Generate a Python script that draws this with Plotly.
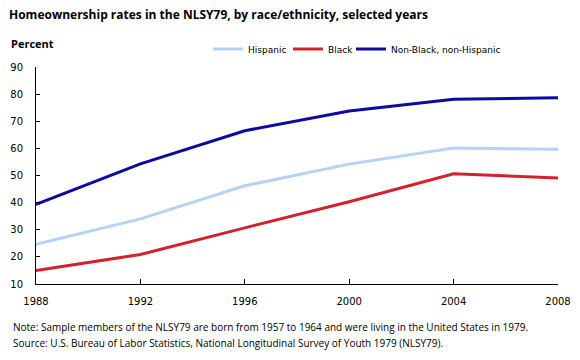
import plotly.graph_objects as go

years = [1988, 1992, 1996, 2000, 2004, 2008]
hispanic = [24.6, 34.0, 46.2, 54.2, 60.1, 59.7]
black = [15.0, 20.9, 30.7, 40.3, 50.6, 49.1]
non_black_non_hispanic = [39.4, 54.3, 66.5, 73.8, 78.1, 78.7]

series = [
    ("Hispanic", hispanic, "#B3D3F9", "legend"),
    ("Black", black, "#D2222D", "legend2"),
    ("Non-Black, non-Hispanic", non_black_non_hispanic, "#0F0A9E", "legend3"),
]

fig = go.Figure()
for name, vals, col, lg in series:
    fig.add_trace(go.Scatter(x=years, y=vals, name=name, mode="lines",
                             line=dict(color=col, width=3), legend=lg))

L, R, T, B = 36, 22, 67, 76
W, H = 580, 360
pw, ph = W - L - R, H - T - B


def px(x):
    return (x - L) / pw


def py(y):
    return (H - B - y) / ph


def leg(xpix):
    return dict(orientation="h", x=px(xpix), xanchor="left", y=py(49), yanchor="middle",
                font=dict(family="DejaVu Sans", size=9, color="#000"),
                bgcolor="rgba(0,0,0,0)", itemwidth=30)


tick_font = dict(family="DejaVu Sans", size=10, color="#000")
fig.update_layout(
    width=W, height=H,
    margin=dict(l=L, r=R, t=T, b=B, autoexpand=False),
    paper_bgcolor="white", plot_bgcolor="white",
    showlegend=True,
    legend=leg(208),
    legend2=leg(288),
    legend3=leg(351),
    xaxis=dict(range=[1988, 2008], tickvals=years, ticks="inside", ticklen=5,
               tickcolor="#000", showline=True, linecolor="#000", linewidth=1,
               showgrid=False, zeroline=False, tickfont=tick_font,
               ticklabelstandoff=8),
    yaxis=dict(range=[10, 90], dtick=10, ticks="inside", ticklen=4,
               tickcolor="#000", showline=True, linecolor="#000", linewidth=1,
               showgrid=False, zeroline=False, tickfont=tick_font,
               ticklabelstandoff=10),
)

fig.add_annotation(text="<b>Homeownership rates in the NLSY79, by race/ethnicity, selected years</b>",
                   x=px(7), y=py(15), xref="paper", yref="paper", xanchor="left", yanchor="middle",
                   showarrow=False, font=dict(family="Open Sans", size=12, color="#000"))
fig.add_annotation(text="<b>Percent</b>",
                   x=px(9), y=py(44), xref="paper", yref="paper", xanchor="left", yanchor="middle",
                   showarrow=False, font=dict(family="Open Sans", size=11, color="#000"))
fig.add_annotation(text="Note: Sample members of the NLSY79 are born from 1957 to 1964 and were living in the United States in 1979.",
                   x=px(11), y=py(327), xref="paper", yref="paper", xanchor="left", yanchor="middle",
                   showarrow=False, font=dict(family="Open Sans", size=10, color="#000"))
fig.add_annotation(text="Source: U.S. Bureau of Labor Statistics, National Longitudinal Survey of Youth 1979 (NLSY79).",
                   x=px(11), y=py(343), xref="paper", yref="paper", xanchor="left", yanchor="middle",
                   showarrow=False, font=dict(family="Open Sans", size=10, color="#000"))

fig.write_html("out.html", config={"displayModeBar": False},
               post_script="document.body.style.margin='0';document.body.style.padding='0';")
